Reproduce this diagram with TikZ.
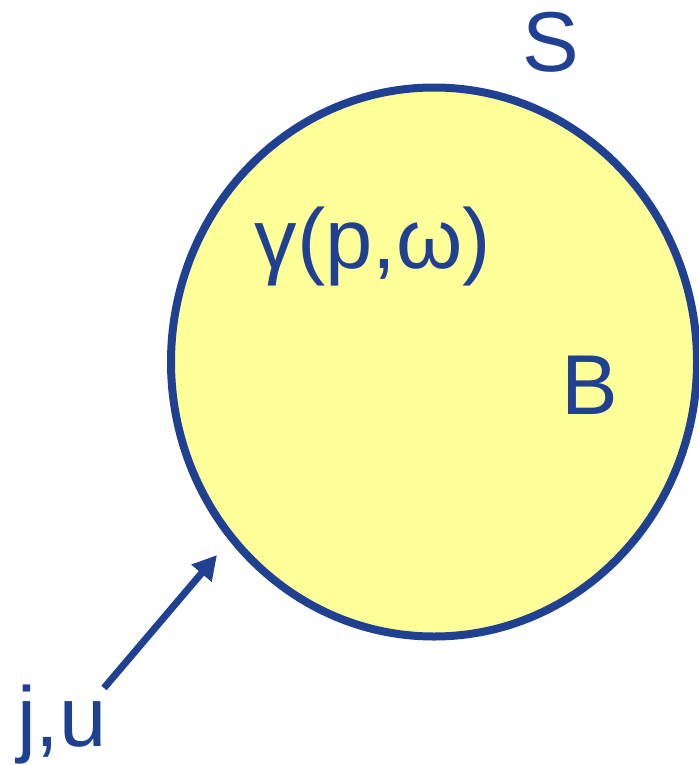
\documentclass[tikz,border=0pt]{standalone}
\usepackage{fontspec}
\setmainfont{Liberation Sans}
\usetikzlibrary{arrows.meta}
\definecolor{dblue}{RGB}{32,64,146}
\definecolor{lyellow}{RGB}{255,255,153}
\tikzset{
  lbl/.style={text=dblue, inner sep=0pt, anchor=base, font=\fontsize{85bp}{90bp}\selectfont},
  region/.style={draw=dblue, fill=lyellow, line width=8bp},
  flux/.style={draw=dblue, line width=7bp, -{Triangle[length=24bp,width=25bp]}}
}
\begin{document}
\begin{tikzpicture}[x=1bp,y=-1bp]
\useasboundingbox (0,0) rectangle (699,765);
\draw[region] (434,362) ellipse [x radius=263, y radius=274.5];
\node[lbl] (S) at (551,71.5) {S};
\node[lbl] (B) at (589.5,414) {B};
\node[lbl] (G) at (373,268) {γ(p,ω)};
\node[lbl] (J) at (62,746) {j,u};
\coordinate (a0) at (104,688);
\coordinate (a1) at (217,555);
\draw[flux] (a0) -- (a1);
\end{tikzpicture}
\end{document}
